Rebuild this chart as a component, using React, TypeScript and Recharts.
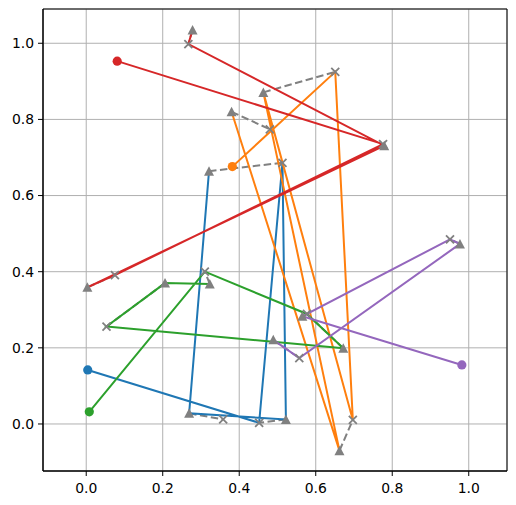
import { ScatterChart, Scatter, XAxis, YAxis, CartesianGrid, ReferenceArea } from 'recharts'

document.body.style.margin = '0'

type Pt = [number, number]

const X_TICKS = [0, 0.2, 0.4, 0.6, 0.8, 1.0]
const Y_TICKS = [0, 0.2, 0.4, 0.6, 0.8, 1.0]
const X_DOMAIN: [number, number] = [-0.113, 1.1]
const Y_DOMAIN: [number, number] = [-0.1235, 1.09]

// vehicle routes, first point is the start (circle)
const BLUE_ROUTE: Pt[] = [
  [0.004, 0.142], [0.452, 0.003], [0.513, 0.686], [0.522, 0.012], [0.269, 0.028], [0.321, 0.664],
]
const ORANGE_ROUTE: Pt[] = [
  [0.382, 0.676], [0.651, 0.925], [0.697, 0.0105], [0.463, 0.871], [0.662, -0.07], [0.38, 0.82],
]
const GREEN_ROUTE: Pt[] = [
  [0.008, 0.032], [0.31, 0.4], [0.577, 0.289], [0.672, 0.199], [0.053, 0.256], [0.206, 0.37], [0.323, 0.368],
]
const RED_ROUTE: Pt[] = [
  [0.081, 0.953], [0.776, 0.735], [0.075, 0.391], [0.003, 0.359], [0.779, 0.731], [0.267, 0.998], [0.278, 1.035],
]
const PURPLE_ROUTE: Pt[] = [
  [0.982, 0.155], [0.565, 0.283], [0.951, 0.485], [0.977, 0.473], [0.557, 0.173], [0.489, 0.221],
]

const ROUTE_COLORS = ['#1f77b4', '#ff7f0e', '#2ca02c', '#d62728', '#9467bd']
const ROUTES = [BLUE_ROUTE, ORANGE_ROUTE, GREEN_ROUTE, RED_ROUTE, PURPLE_ROUTE]

// pickup (triangle) -> delivery (cross)
const PAIRS: [Pt, Pt][] = [
  [[0.321, 0.664], [0.513, 0.686]],
  [[0.269, 0.028], [0.358, 0.012]],
  [[0.522, 0.012], [0.452, 0.003]],
  [[0.38, 0.82], [0.48, 0.774]],
  [[0.463, 0.871], [0.651, 0.925]],
  [[0.662, -0.07], [0.697, 0.0105]],
  [[0.278, 1.035], [0.267, 0.998]],
  [[0.779, 0.731], [0.776, 0.735]],
  [[0.003, 0.359], [0.075, 0.391]],
  [[0.206, 0.37], [0.053, 0.256]],
  [[0.323, 0.368], [0.31, 0.4]],
  [[0.672, 0.199], [0.577, 0.289]],
  [[0.977, 0.473], [0.951, 0.485]],
  [[0.489, 0.221], [0.557, 0.173]],
]
const LONE_TRI: Pt[] = [[0.565, 0.283]]

const GRAY = '#808080'
const toRows = (pts: Pt[]) => pts.map(([x, y], i) => ({ x, y, start: i === 0 }))

const triData = [...PAIRS.map((p) => p[0]), ...LONE_TRI].map(([x, y]) => ({ x, y }))
const crossData = PAIRS.map((p) => p[1]).map(([x, y]) => ({ x, y }))

const Nothing = () => <g />

const Tri = (p: any) => (
  <polygon
    points={`${p.cx},${p.cy - 5} ${p.cx - 5},${p.cy + 4.5} ${p.cx + 5},${p.cy + 4.5}`}
    fill={GRAY}
  />
)

const Cross = (p: any) => (
  <path
    d={`M${p.cx - 4},${p.cy - 4}L${p.cx + 4},${p.cy + 4}M${p.cx - 4},${p.cy + 4}L${p.cx + 4},${p.cy - 4}`}
    stroke={GRAY}
    strokeWidth={1.8}
    fill="none"
  />
)

const startDot = (color: string) => (p: any) =>
  p.payload?.start ? <circle cx={p.cx} cy={p.cy} r={4.6} fill={color} /> : <g />

const tickStyle = { fill: '#000', fontSize: 13.9, fontFamily: 'DejaVu Sans' }

export default function App() {
  return (
    <ScatterChart width={516} height={505} margin={{ top: 9, right: 9, bottom: 0, left: 0 }}>
      <CartesianGrid stroke="#b0b0b0" strokeWidth={1} />
      <XAxis
        type="number"
        dataKey="x"
        domain={X_DOMAIN}
        ticks={X_TICKS}
        allowDataOverflow
        height={34}
        tickSize={5}
        tickMargin={7}
        tickFormatter={(v: number) => v.toFixed(1)}
        tick={tickStyle}
        stroke="#000"
      />
      <YAxis
        type="number"
        dataKey="y"
        domain={Y_DOMAIN}
        ticks={Y_TICKS}
        allowDataOverflow
        width={43}
        tickSize={5}
        tickMargin={4}
        tickFormatter={(v: number) => v.toFixed(1)}
        tick={tickStyle}
        stroke="#000"
      />
      {PAIRS.map((pr, i) => (
        <Scatter
          key={'pair' + i}
          data={pr.map(([x, y]) => ({ x, y }))}
          line={{ stroke: GRAY, strokeWidth: 2, strokeDasharray: '7.5 3.5' }}
          shape={Nothing}
          isAnimationActive={false}
        />
      ))}
      {ROUTES.map((r, i) => (
        <Scatter
          key={'route' + i}
          data={toRows(r)}
          line={{ stroke: ROUTE_COLORS[i], strokeWidth: 2 }}
          shape={Nothing}
          isAnimationActive={false}
        />
      ))}
      <Scatter data={triData} shape={Tri} isAnimationActive={false} />
      <Scatter data={crossData} shape={Cross} isAnimationActive={false} />
      {ROUTES.map((r, i) => (
        <Scatter
          key={'start' + i}
          data={toRows(r).slice(0, 1)}
          shape={startDot(ROUTE_COLORS[i])}
          isAnimationActive={false}
        />
      ))}
      <ReferenceArea
        x1={X_DOMAIN[0]}
        x2={X_DOMAIN[1]}
        y1={Y_DOMAIN[0]}
        y2={Y_DOMAIN[1]}
        fill="none"
        stroke="#000"
        strokeWidth={1}
        ifOverflow="visible"
      />
    </ScatterChart>
  )
}
